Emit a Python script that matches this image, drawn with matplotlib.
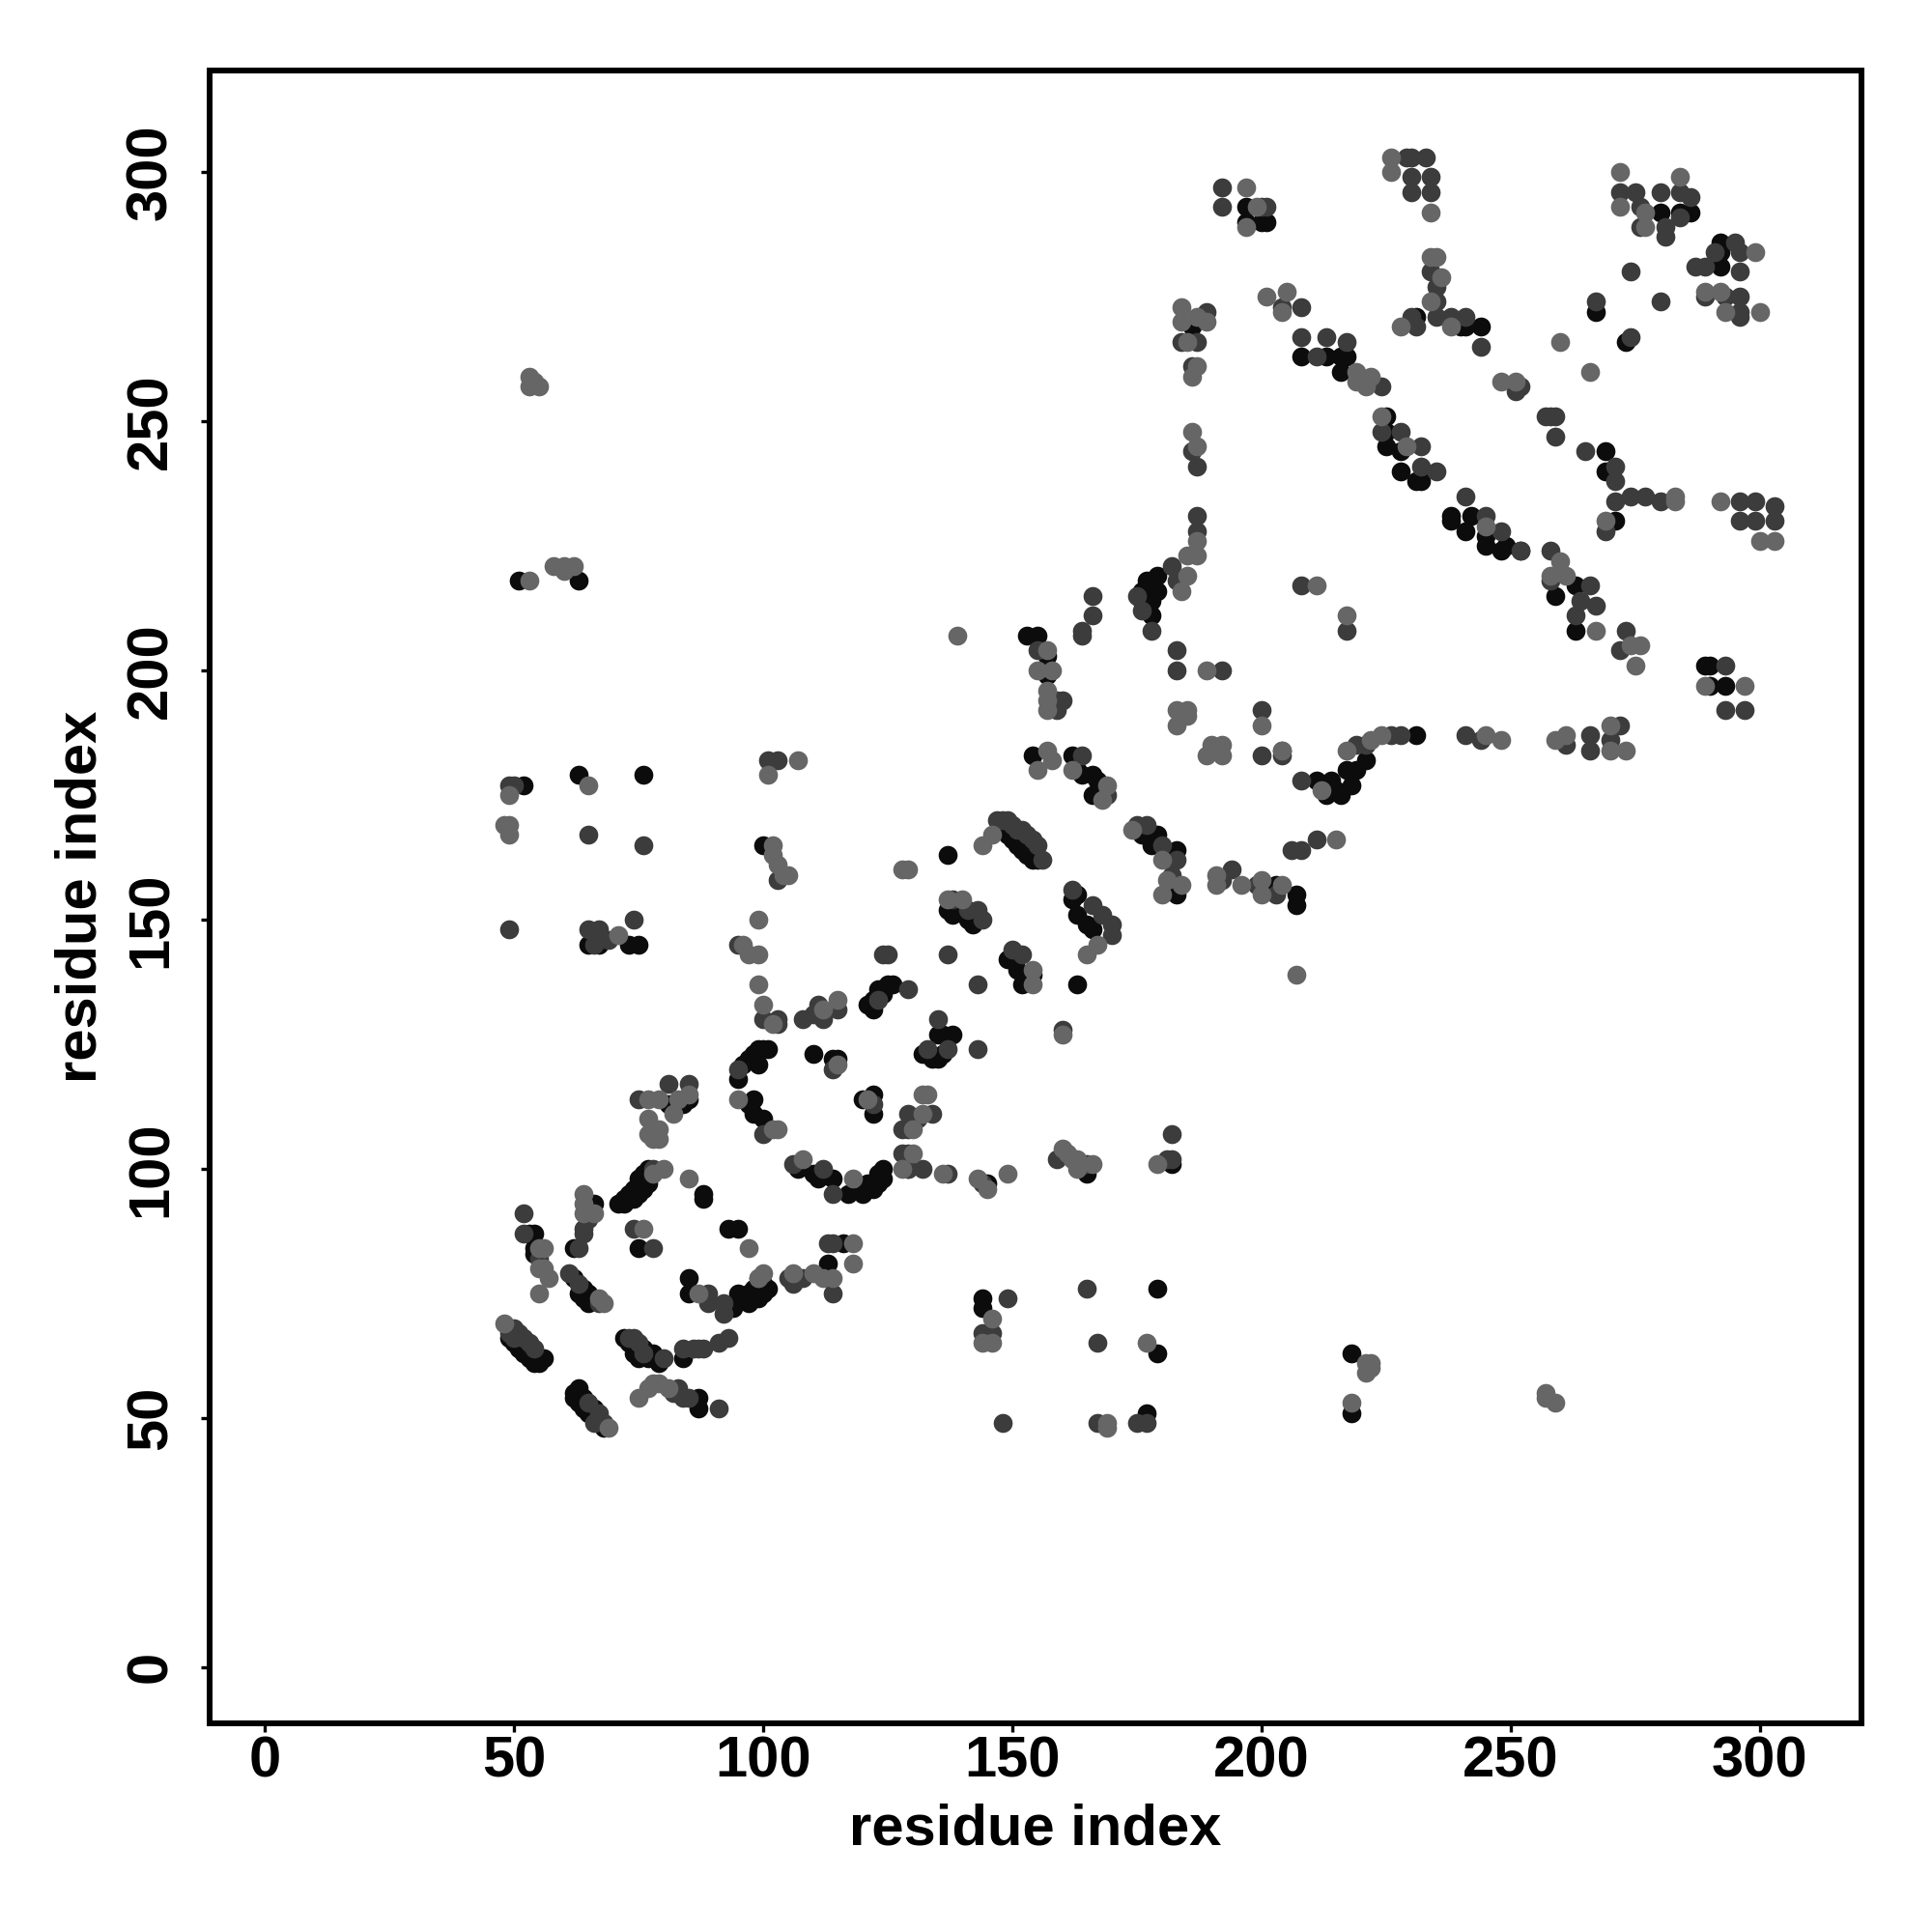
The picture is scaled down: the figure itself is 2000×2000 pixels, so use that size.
import numpy as np
import matplotlib
matplotlib.use('Agg')
import matplotlib.pyplot as plt

# contacts, (residue i, residue j), grouped by grey level
black_pts = [
    (49,66),(50,65),(51,64),(52,63),(53,62),(54,61),(55,61),(56,62),(52,65),(53,63),(54,62),
    (62,55),(62,54),(63,56),(63,53),(64,54),(64,52),(65,51),(66,52),(66,50),(67,49),(68,48),
    (72,66),(73,65),(74,63),(75,62),(76,64),(77,62),(78,63),(79,61),(79,62),
    (84,62),(87,52),(87,54),(53,87),(54,87),(54,84),(54,83),
    (62,78),(64,76),(65,75),(63,75),(64,74),(65,73),(66,74),(62,84),(66,93),
    (71,93),(72,94),(73,95),(72,93),(74,96),(75,97),(75,98),(76,99),(77,100),(74,94),(75,95),(76,96),(77,97),
    (88,94),(88,95),(75,84),(93,88),(95,88),(85,78),(85,75),
    (93,72),(94,72),(95,75),(96,74),(97,73),(97,75),(98,76),(99,74),(100,75),(100,77),(101,76),
    (113,81),(116,85),(113,78),(84,113),(85,114),(81,113),
    (95,118),(96,121),(97,122),(98,123),(99,124),(100,124),(101,124),(99,121),(97,113),(98,114),(98,111),(100,110),(101,108),
    (110,123),(114,122),(115,122),(120,114),(122,111),(122,115),
    (107,100),(110,99),(111,98),(114,98),(117,95),(120,95),(121,97),(122,96),(123,97),(123,99),(124,100),(124,98),
    (145,97),(132,123),(134,122),(135,122),(136,123),(135,127),(136,127),(138,127),
    (121,133),(122,132),(122,134),(123,136),(124,135),(125,137),(126,137),(124,136),
    (65,145),(67,145),(73,145),(75,145),(52,177),(63,179),(76,179),(100,165),(51,218),(63,218),
    (144,74),(144,72),(179,63),(179,76),(218,63),(218,51),(177,51),(165,99),(163,137),(137,163),(182,101),
    (148,168),(149,167),(150,166),(151,165),(152,164),(153,163),(154,162),(155,162),
    (153,207),(155,207),(157,203),(157,199),
    (154,183),(163,180),(164,179),(166,179),(167,178),(168,177),(166,175),(168,176),(162,183),
    (137,152),(138,151),(142,149),(141,150),(149,142),(151,140),(154,139),(152,137),
    (163,155),(162,154),(163,151),(165,149),(166,148),
    (176,167),(179,167),(178,165),(183,164),(183,155),(203,157),(207,155),(207,153),(211,178),
    (197,293),(197,290),(201,290),(200,290),(231,271),(240,269),(241,269),(244,269),(208,263),(213,263),(216,263),(217,263),(216,260),
    (186,269),(267,272),(273,266),(280,292),(284,292),(286,292),(292,286),(292,284),(292,281),
    (225,251),(225,248),(225,245),(228,244),(228,240),(231,238),(232,238),
    (238,231),(238,230),(242,231),(241,228),(245,227),(245,225),(248,224),(249,225),(252,224),
    (269,244),(269,240),(271,230),(263,217),(179,219),(177,218),(179,216),(176,216),(176,214),(178,214),(178,211),
    (214,178),(213,175),(216,175),(215,176),(218,177),(217,180),(219,180),(221,182),(231,187),
    (289,201),(290,201),(290,197),(293,197),(263,208),(259,215),
]
dark_pts = [
    (49,68),(50,68),(49,67),(50,66),(51,67),(52,66),(53,65),(54,64),
    (65,53),(67,51),(67,50),(68,49),(66,49),
    (73,66),(74,66),(75,65),(76,63),(80,62),(82,55),(83,56),(84,54),(85,54),(91,52),(84,64),(86,64),(87,64),(88,64),(93,66),(91,65),
    (52,91),(52,87),(55,82),(61,79),(63,77),(67,73),(63,84),(64,87),(64,88),(65,90),
    (78,100),(74,88),(78,84),(89,75),(89,73),(92,71),(92,73),(99,78),(105,78),(106,77),(108,78),(113,85),(114,85),(114,75),
    (75,114),(81,117),(85,117),(95,120),(100,107),(114,120),(122,113),
    (106,101),(112,100),(114,95),(128,103),(129,100),(132,100),(128,108),(129,111),(131,110),(134,111),(137,99),(144,97),
    (133,124),(137,124),(135,130),(143,124),(108,130),(110,131),(111,133),(112,130),(115,132),(100,130),(103,130),(103,129),
    (123,134),(125,143),(129,136),(95,145),(66,145),(65,148),(67,148),(69,146),(74,150),(49,148),(49,177),(50,177),
    (65,167),(76,165),(103,158),(101,182),(103,182),
    (146,67),(149,74),(148,49),(144,67),(165,76),(167,65),(167,49),(175,49),(177,49),(159,102),(165,101),(181,102),(182,102),(182,107),
    (137,143),(143,137),(147,170),(148,170),(149,170),(150,169),(151,168),(152,168),(153,167),(154,166),(155,165),(156,162),
    (155,204),(159,194),(160,194),(159,192),(164,207),(164,208),(166,211),(166,215),
    (164,183),(169,175),(124,143),(138,154),(141,152),(143,152),(144,150),
    (150,144),(152,143),(160,128),(162,156),(166,153),(168,151),(170,149),(170,147),
    (175,169),(177,169),(180,165),(183,162),(182,159),(192,158),(194,160),(199,157),(203,155),(208,178),(206,164),(208,164),(211,166),
    (200,192),(200,183),(204,184),(204,183),(129,108),(129,103),(129,100),
    (229,303),(230,303),(233,303),(230,299),(234,299),(230,296),(234,296),
    (192,297),(192,293),(200,293),(201,293),(204,273),(208,273),(208,267),(213,267),(217,266),
    (189,272),(184,266),(187,266),(186,261),(186,244),(187,241),(187,231),(187,228),
    (234,280),(235,277),(235,274),(230,271),(231,269),(235,271),(238,271),(241,271),(244,265),
    (211,263),(224,257),(252,257),(251,256),
    (267,274),(274,267),(274,280),(280,274),(272,296),(275,296),(276,293),(276,289),(280,296),(281,289),(281,287),(284,296),(286,295),(284,291),
    (295,286),(296,284),(291,284),(287,281),(289,281),(296,280),(293,275),(296,275),(289,275),(296,272),(296,271),
    (224,248),(228,248),(232,245),(232,241),(235,240),(258,251),(259,251),(257,251),(259,247),
    (241,235),(245,231),(248,228),(252,224),(265,244),(271,241),(271,238),(271,234),(274,235),(277,235),(280,234),(269,228),
    (296,234),(299,234),(303,233),(296,230),(299,230),(303,230),(258,224),(266,217),(208,217),
    (183,218),(182,221),(175,215),(176,212),(178,208),(183,204),(183,200),(192,200),
    (217,208),(241,187),(244,186),(226,187),(228,187),(219,185),(221,185),(261,185),(266,187),(266,184),(272,189),(270,186),
    (293,201),(293,192),(297,192),(273,208),(272,204),(267,213),(264,214),(263,211),(258,218),
]
mid_pts = [
    (48,69),(69,48),(75,54),(77,56),(78,57),(79,57),(81,56),(55,84),(56,84),(55,80),(56,80),(57,78),(55,75),(68,73),(67,74),
    (64,91),(64,93),(64,95),(66,91),(78,99),(80,100),(85,98),(76,88),(97,84),(87,75),(100,79),(99,78),
    (106,79),(110,79),(112,78),(114,78),(118,81),(118,85),(77,114),(77,107),(78,106),(78,108),(79,106),(77,110),(79,108),(79,114),(82,111),(83,114),(85,115),
    (95,114),(102,108),(103,108),(115,121),(121,114),(108,102),(118,98),(130,103),(128,100),(130,108),(132,111),(132,115),(133,115),
    (143,98),(145,96),(149,99),(136,99),(112,132),(115,134),(100,133),(102,129),(99,137),(96,145),(97,143),(99,143),(99,150),(71,147),
    (48,169),(49,169),(49,167),(49,175),(65,177),(102,165),(102,163),(103,161),(104,159),(105,159),(101,179),(107,182),
    (53,218),(58,221),(60,221),(60,220),(62,221),(53,259),(53,257),(54,258),(55,257),
    (146,70),(146,65),(144,65),(169,48),(169,49),(177,65),(218,53),(221,61),(222,61),(221,59),(222,60),(257,55),(257,54),(259,53),
    (160,127),(160,104),(161,103),(162,102),(163,102),(163,100),(166,101),(179,101),(128,160),(129,160),
    (144,165),(146,167),(155,180),(157,184),(158,182),(162,180),(169,177),(168,174),(137,154),(140,154),(154,140),(154,137),
    (167,145),(165,143),(174,168),(180,162),(184,157),(180,155),(181,158),(191,159),(191,157),(196,157),(200,158),(200,155),(204,157),(207,139),(212,176),(215,166),
    (139,207),(157,204),(155,200),(158,200),(157,196),(157,194),(157,192),
    (183,189),(183,192),(185,192),(185,191),(189,183),(190,185),(192,185),(192,183),(200,189),(204,184),
    (226,303),(226,300),(234,292),(235,283),(234,283),(236,279),(234,274),(228,269),(238,269),
    (197,297),(197,289),(199,293),(201,275),(205,276),(204,272),(184,273),(184,270),(187,271),(189,270),(185,266),(187,261),(186,259),(186,248),(187,245),
    (219,260),(219,258),(222,259),(221,257),(248,258),(251,258),(260,266),(266,260),
    (272,300),(272,293),(277,292),(277,289),(284,299),(299,284),(289,276),(292,276),(293,272),(300,272),
    (224,251),(229,245),(245,229),(269,230),(283,235),(283,234),(292,234),(300,226),(303,226),(260,222),(258,219),(261,219),(211,217),
    (187,226),(187,223),(185,223),(185,219),(184,216),(189,200),(217,211),(217,184),(222,186),(224,187),
    (245,187),(248,186),(259,186),(261,187),(270,189),(270,184),(273,184),(289,197),(297,197),(274,205),(276,205),(275,201),(267,208),
]

x_ticks = [0, 50, 100, 150, 200, 250, 300]
y_ticks = [0, 50, 100, 150, 200, 250, 300]

plt.rcParams['font.family'] = ['Liberation Sans', 'DejaVu Sans']

fig = plt.figure(figsize=(10, 10), dpi=200)
ax = fig.add_axes([0.1084, 0.108, 0.8549, 0.8557])

for pts, col in [(black_pts, '#0c0c0c'), (dark_pts, '#3c3c3c'), (mid_pts, '#666666')]:
    arr = np.array(pts)
    ax.scatter(arr[:, 0], arr[:, 1], s=50, c=col, linewidths=0, zorder=3)

ax.set_xlim(-11.1, 320.3)
ax.set_ylim(-11.3, 320.5)
ax.set_xticks(x_ticks)
ax.set_yticks(y_ticks)
ax.tick_params(length=3.3, width=1.2, labelsize=21.5)
ax.tick_params(axis='x', pad=1.3)
ax.tick_params(axis='y', pad=8.3)
for lab in ax.get_xticklabels() + ax.get_yticklabels():
    lab.set_fontweight('bold')
for lab in ax.get_yticklabels():
    lab.set_rotation(90)
    lab.set_verticalalignment('center')
for sp in ax.spines.values():
    sp.set_linewidth(2.16)

ax.set_xlabel('residue index', fontsize=21.5, fontweight='bold', labelpad=5.4)
ax.set_ylabel('residue index', fontsize=21.5, fontweight='bold', labelpad=6.5)

fig.savefig('out.png')
